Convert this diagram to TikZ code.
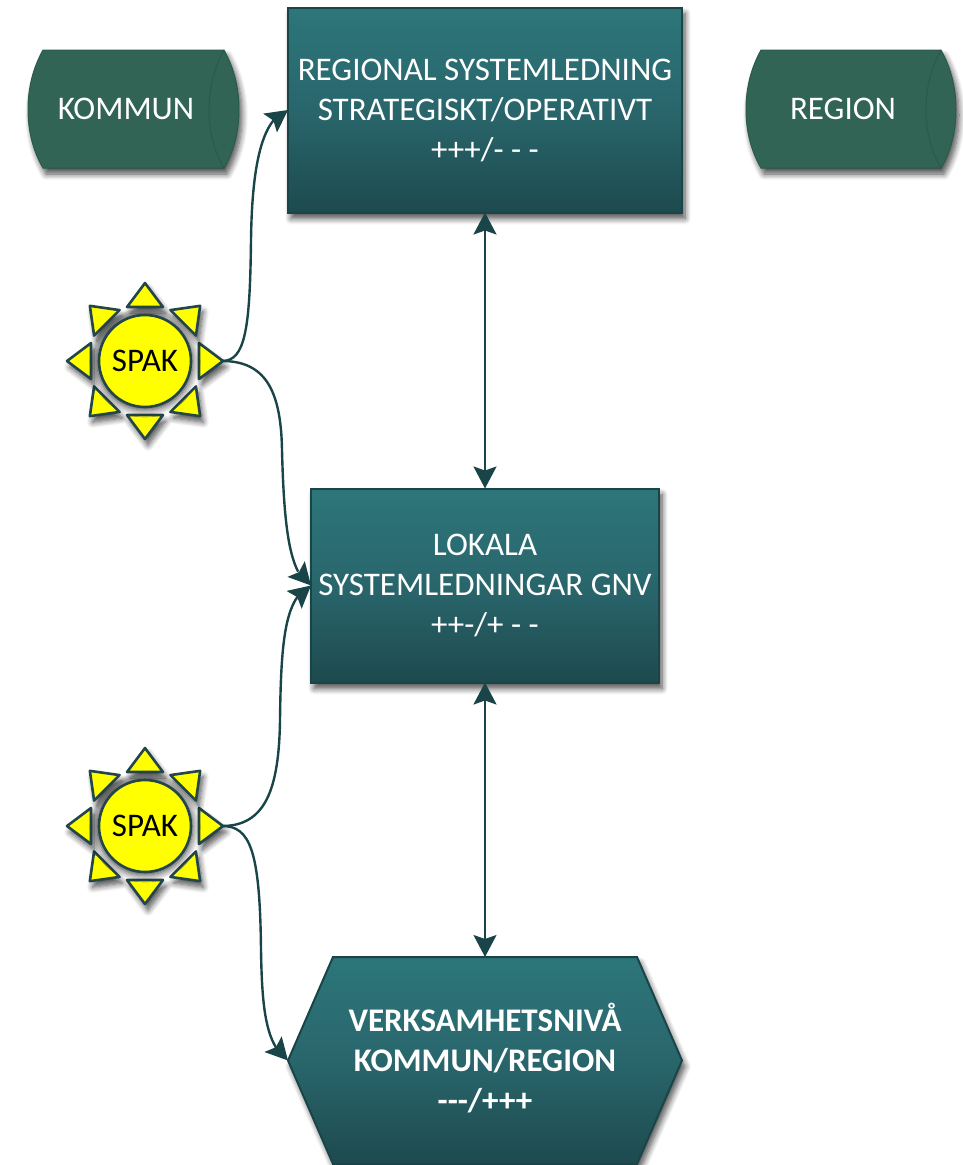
\documentclass[tikz,border=0pt]{standalone}
\usepackage{fontspec}
\setmainfont{Carlito}
\usetikzlibrary{arrows.meta,bending,shadows.blur,calc}
\definecolor{edgec}{HTML}{1A4548}
\definecolor{tealtop}{HTML}{2C767A}
\definecolor{tealmid}{HTML}{29666C}
\definecolor{tealbot}{HTML}{1D4A4E}
\definecolor{drumc}{HTML}{316455}
\definecolor{drumedge}{HTML}{2A5A4C}
\definecolor{sunc}{HTML}{FFFF00}
\definecolor{sunedge}{HTML}{24464A}
\tikzset{
  x=1pt,y=-1pt,
  softshadow/.style={blur shadow={shadow blur steps=8,shadow xshift=3pt,shadow yshift=-6pt,shadow blur radius=6pt,shadow opacity=70}},
  tealfill/.style={top color=tealtop,bottom color=tealbot,middle color=tealmid,draw=edgec,line width=2pt},
  levelbox/.style={tealfill,softshadow,rectangle,inner sep=0pt,outer sep=0pt,align=center,text=white,font=\fontsize{33}{40}\selectfont},
  labeltext/.style={inner sep=0pt,outer sep=0pt,align=center,text=white},
  drumshape/.style={fill=drumc,draw=drumedge,line width=1pt,softshadow},
  sunpart/.style={fill=sunc,draw=sunedge,line width=2.6pt,line join=round,softshadow},
  sunlabel/.style={circle,fill=sunc,draw=sunedge,line width=2.6pt,minimum size=92pt,inner sep=0pt,outer sep=0pt,blur shadow={shadow blur steps=8,shadow xshift=0pt,shadow yshift=-1pt,shadow blur radius=7pt,shadow scale=1.04,shadow opacity=80},font=\fontsize{33}{36}\selectfont},
  link/.style={draw=edgec,line width=2.4pt,-{Stealth[length=22pt,width=23pt,inset=4pt,flex=1]}},
  twoway/.style={draw=edgec,line width=2.4pt,{Stealth[length=22pt,width=23pt,inset=4pt]}-{Stealth[length=22pt,width=23pt,inset=4pt]}},
}
\newcommand{\sunrays}[2]{%
  \foreach \a in {0,45,...,315}{%
    \path[sunpart] ($(#1,#2)+(\a:54 and 54)+(\a+90:18 and 18)$) -- ($(#1,#2)+(\a:78 and 78)$) -- ($(#1,#2)+(\a:54 and 54)+(\a-90:18 and 18)$) -- cycle;
  }%
}
\begin{document}
\begin{tikzpicture}
\useasboundingbox (0,0) rectangle (963,1165);
% drums
\path[drumshape] (43,50) -- (224,50) .. controls (234,68) and (239,88) .. (239,109.5) .. controls (239,131) and (234,151) .. (224,168) -- (43,168) .. controls (33,151) and (28,131) .. (28,109.5) .. controls (28,88) and (33,68) .. (43,50) -- cycle;
\draw[drumedge,line width=1pt] (224,50) .. controls (214,68) and (209,88) .. (209,109.5) .. controls (209,131) and (214,151) .. (224,168);
\node[labeltext,font=\fontsize{33}{36}\selectfont] (kommun) at (126,109) {KOMMUN};
\path[drumshape] (761,50) -- (941,50) .. controls (951,68) and (956,88) .. (956,109.5) .. controls (956,131) and (951,151) .. (941,168) -- (761,168) .. controls (751,151) and (746,131) .. (746,109.5) .. controls (746,88) and (751,68) .. (761,50) -- cycle;
\draw[drumedge,line width=1pt] (941,50) .. controls (931,68) and (926,88) .. (926,109.5) .. controls (926,131) and (931,151) .. (941,168);
\node[labeltext,font=\fontsize{33}{36}\selectfont] (region) at (843,109) {REGION};
% level boxes
\node[levelbox,minimum width=394pt,minimum height=205pt] (top) at (485,110) {REGIONAL SYSTEMLEDNING\\STRATEGISKT/OPERATIVT\\+++/- - -};
\node[levelbox,minimum width=348pt,minimum height=194pt] (mid) at (485,585.5) {LOKALA\\SYSTEMLEDNINGAR GNV\\++-/+ - -};
% hexagon
\path[tealfill,softshadow] (333,957) -- (637,957) -- (682,1060.5) -- (637,1164) -- (333,1164) -- (288,1060.5) -- cycle;
\node[labeltext,font=\bfseries\fontsize{33}{40}\selectfont,minimum width=394pt,minimum height=207pt] (hex) at (485,1058.5) {VERKSAMHETSNIVÅ\\KOMMUN/REGION\\-{}-{}-/+++};
\coordinate (hexwest) at (288,1060.5);
\coordinate (hexnorth) at (485,957);
% suns
\sunrays{145}{361}
\node[sunlabel] (spaka) at (145,361) {SPAK};
\coordinate (spakaout) at (222,361);
\sunrays{145}{826}
\node[sunlabel] (spakb) at (145,826) {SPAK};
\coordinate (spakbout) at (222,826);
% connectors
\draw[twoway] (top.south) -- (mid.north);
\draw[twoway] (mid.south) -- (hexnorth);
\draw[link] (spakaout) .. controls (245,361) and (250,330) .. (251,240) .. controls (252,165) and (262,118) .. (top.west);
\draw[link] (spakaout) .. controls (265,361) and (281,390) .. (282,450) .. controls (284,530) and (290,575) .. (mid.west);
\draw[link] (spakbout) .. controls (265,826) and (279,790) .. (280,720) .. controls (281,640) and (285,597) .. (mid.west);
\draw[link] (spakbout) .. controls (250,826) and (260,850) .. (261,950) .. controls (262,1010) and (266,1045) .. (hexwest);
\end{tikzpicture}
\end{document}
